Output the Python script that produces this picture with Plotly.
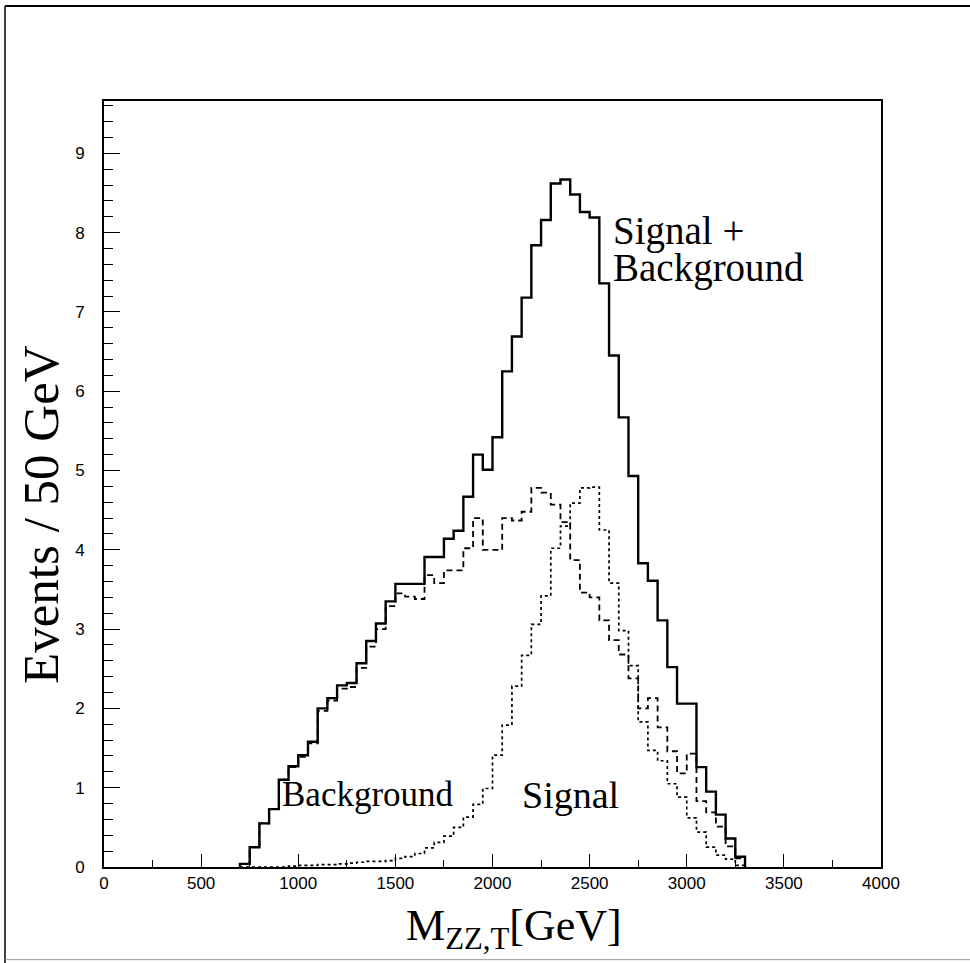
import plotly.graph_objects as go

# ---- data ----
bin_width = 50
first_edge = 700  # GeV, lower edge of first bin

signal_plus_background = [
    0.04, 0.25, 0.55, 0.73, 1.10, 1.27, 1.41, 1.58, 2.00, 2.13,
    2.29, 2.32, 2.57, 2.85, 3.07, 3.35, 3.57, 3.57, 3.57, 3.91,
    3.91, 4.14, 4.24, 4.67, 5.20, 5.01, 5.42, 6.25, 6.69, 7.18,
    7.84, 8.16, 8.62, 8.67, 8.48, 8.26, 8.19, 7.36, 6.45, 5.67,
    4.93, 3.83, 3.61, 3.11, 2.52, 2.06, 2.06, 1.26, 0.95, 0.66,
    0.36, 0.13,
]
background = [
    0.04, 0.25, 0.55, 0.73, 1.10, 1.26, 1.39, 1.56, 1.97, 2.10,
    2.25, 2.27, 2.51, 2.78, 3.00, 3.29, 3.45, 3.41, 3.38, 3.68,
    3.58, 3.74, 3.74, 4.02, 4.40, 4.00, 4.00, 4.40, 4.37, 4.48,
    4.78, 4.72, 4.57, 4.35, 3.87, 3.46, 3.40, 3.11, 2.86, 2.68,
    2.38, 2.00, 2.13, 1.76, 1.46, 1.18, 1.43, 0.83, 0.69, 0.51,
    0.26, 0.11,
]
signal = [
    0.00, 0.00, 0.00, 0.00, 0.00, 0.01, 0.02, 0.02, 0.03, 0.03,
    0.04, 0.05, 0.06, 0.07, 0.07, 0.08, 0.11, 0.13, 0.17, 0.24,
    0.31, 0.39, 0.50, 0.63, 0.79, 0.99, 1.41, 1.79, 2.28, 2.67,
    3.06, 3.42, 4.02, 4.30, 4.59, 4.78, 4.79, 4.25, 3.58, 2.98,
    2.54, 1.83, 1.47, 1.34, 1.05, 0.88, 0.62, 0.44, 0.25, 0.15,
    0.10, 0.02,
]

x_tick_vals = [0, 500, 1000, 1500, 2000, 2500, 3000, 3500, 4000]
y_tick_vals = [0, 1, 2, 3, 4, 5, 6, 7, 8, 9]


def step_xy(values):
    edges = [first_edge + i * bin_width for i in range(len(values) + 1)]
    xs = [edges[0]] + edges[:-1] + [edges[-1], edges[-1]]
    ys = [0] + list(values) + [values[-1], 0]
    return xs, ys


fig = go.Figure()

for vals, dash, width in [
    (signal, "dot", 1.7),
    (background, "6px,4px", 1.8),
    (signal_plus_background, "solid", 2.4),
]:
    xs, ys = step_xy(vals)
    fig.add_trace(go.Scatter(
        x=xs, y=ys, mode="lines", line_shape="hv",
        line=dict(color="black", width=width, dash=dash),
        showlegend=False, hoverinfo="skip",
    ))

serif = "Liberation Serif, Times New Roman, serif"
sans = "Liberation Sans, Arial, sans-serif"

fig.update_layout(
    width=970, height=963,
    margin=dict(l=104, r=89, t=101, b=96),
    paper_bgcolor="white", plot_bgcolor="white",
    showlegend=False,
    xaxis=dict(
        range=[0, 4000], tickvals=x_tick_vals,
        ticks="inside", ticklen=13, tickwidth=1.3, tickcolor="black",
        minor=dict(dtick=250, ticks="inside", ticklen=7, tickwidth=1.2, tickcolor="black", showgrid=False),
        showline=True, linecolor="black", linewidth=2, mirror=True,
        showgrid=False, zeroline=False,
        tickfont=dict(family=sans, size=17, color="black"),
    ),
    yaxis=dict(
        range=[0, 9.66], tickvals=y_tick_vals,
        ticks="inside", ticklen=16, tickwidth=1.3, tickcolor="black",
        minor=dict(dtick=0.2, ticks="inside", ticklen=9, tickwidth=1.2, tickcolor="black", showgrid=False),
        showline=True, linecolor="black", linewidth=2, mirror=True,
        showgrid=False, zeroline=False,
        ticklabelstandoff=14,
        tickfont=dict(family=sans, size=17, color="black"),
    ),
    annotations=[
        dict(x=-0.082, y=0.460, xref="paper", yref="paper", text="Events / 50 GeV",
             showarrow=False, textangle=-90, xanchor="center", yanchor="middle",
             font=dict(family=serif, size=51, color="black")),
        dict(x=0.528, y=-0.080, xref="paper", yref="paper", text="M<sub>ZZ,T</sub>[GeV]",
             showarrow=False, xanchor="center", yanchor="middle",
             font=dict(family=serif, size=44, color="black")),
        dict(x=2612, y=8.02, xref="x", yref="y", text="Signal +",
             showarrow=False, xanchor="left", yanchor="middle",
             font=dict(family=serif, size=39, color="black")),
        dict(x=2612, y=7.56, xref="x", yref="y", text="Background",
             showarrow=False, xanchor="left", yanchor="middle",
             font=dict(family=serif, size=39, color="black")),
        dict(x=905, y=0.91, xref="x", yref="y", text="Background",
             showarrow=False, xanchor="left", yanchor="middle",
             font=dict(family=serif, size=35, color="black")),
        dict(x=2140, y=0.91, xref="x", yref="y", text="Signal",
             showarrow=False, xanchor="left", yanchor="middle",
             font=dict(family=serif, size=38, color="black")),
    ],
    shapes=[
        dict(type="line", xref="paper", yref="paper", x0=-0.1274, x1=1.12, y0=1.124, y1=1.124,
             line=dict(color="black", width=2)),
        dict(type="line", xref="paper", yref="paper", x0=-0.1274, x1=-0.1274, y0=1.124, y1=-0.13,
             line=dict(color="black", width=1.5)),
        dict(type="line", xref="paper", yref="paper", x0=-0.1274, x1=1.12, y0=-0.121, y1=-0.121,
             line=dict(color="#999999", width=1)),
    ],
)

fig.write_html("out.html", config={"displayModeBar": False},
               post_script="document.body.style.margin='0px';")
